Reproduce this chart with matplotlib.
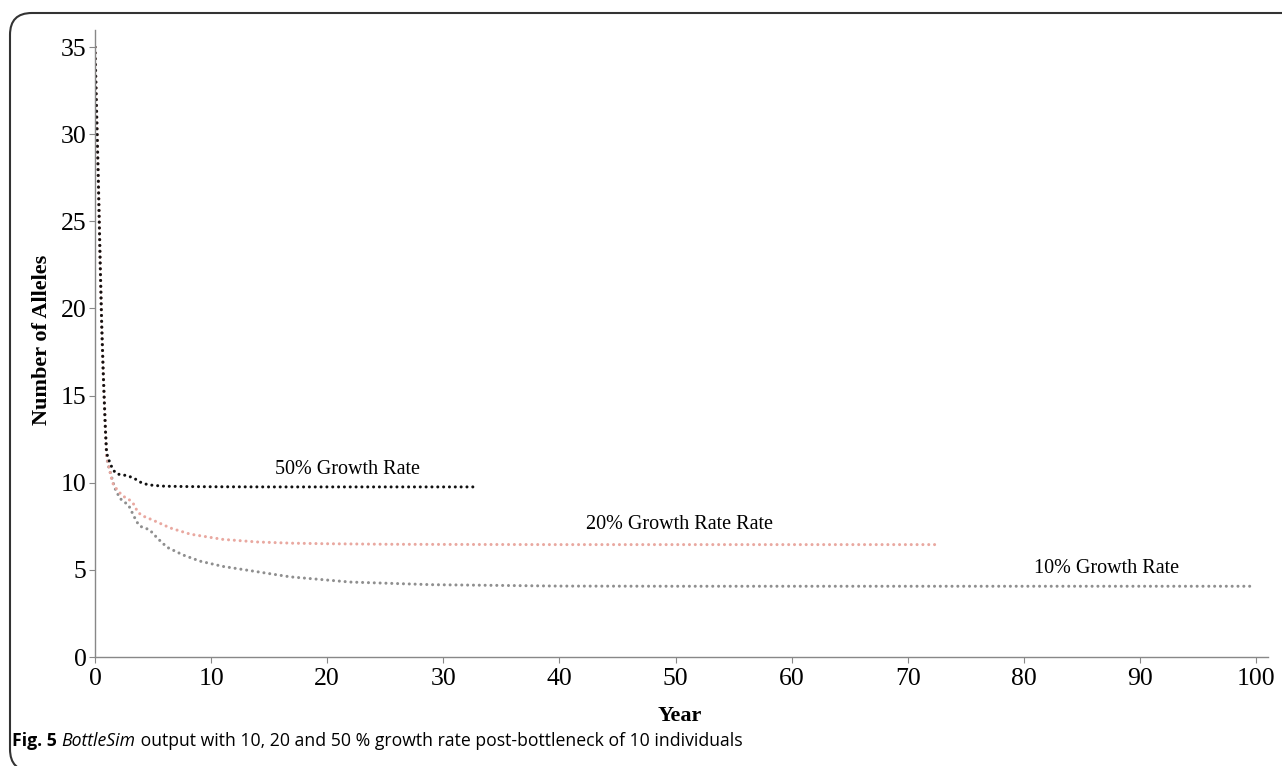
import matplotlib.pyplot as plt
from matplotlib.patches import FancyBboxPatch

# values (year, number of alleles)
years_50 = [0, 0.15, 0.3, 0.45, 0.58, 0.7, 0.8, 0.9, 1.0, 1.3, 1.6, 1.9, 2.4, 2.8, 3.2, 3.5, 4.0, 4.5, 5.0, 6, 8, 10, 15, 20, 25, 30, 32.7]
alleles_50 = [35, 31.0, 27.0, 22.5, 19.0, 16.5, 14.7, 13.0, 11.7, 11.1, 10.7, 10.5, 10.45, 10.4, 10.3, 10.2, 10.0, 9.9, 9.85, 9.8, 9.78, 9.77, 9.76, 9.76, 9.76, 9.76, 9.76]

years_20 = [0, 0.15, 0.3, 0.45, 0.58, 0.7, 0.8, 0.9, 1.0, 1.5, 2.0, 2.5, 3.0, 3.3, 3.7, 4.1, 5.0, 6.5, 8.2, 11, 14, 17, 20, 25, 30, 40, 50, 60, 72.7]
alleles_20 = [35, 31.0, 27.0, 22.5, 19.0, 16.5, 14.7, 13.0, 11.5, 10.0, 9.5, 9.2, 9.0, 8.8, 8.3, 8.1, 7.85, 7.4, 7.05, 6.75, 6.6, 6.53, 6.5, 6.47, 6.46, 6.45, 6.45, 6.45, 6.45]

years_10 = [0, 0.15, 0.3, 0.45, 0.58, 0.7, 0.8, 0.9, 1.0, 1.1, 1.7, 2.15, 2.9, 3.3, 3.6, 3.9, 4.7, 5.4, 6.2, 7.6, 9.05, 11, 13.9, 16.8, 22, 29, 40, 50, 60, 70, 80, 90, 99.6]
alleles_10 = [35, 31.0, 27.0, 22.5, 19.0, 16.5, 14.7, 13.0, 11.5, 11.1, 9.7, 9.1, 8.7, 8.15, 7.75, 7.5, 7.3, 6.8, 6.3, 5.85, 5.5, 5.2, 4.9, 4.6, 4.3, 4.15, 4.07, 4.06, 4.06, 4.06, 4.06, 4.06, 4.06]

x_ticks = [0, 10, 20, 30, 40, 50, 60, 70, 80, 90, 100]
y_ticks = [0, 5, 10, 15, 20, 25, 30, 35]

serif = 'Liberation Serif'
dots = (0, (0.01, 1.9))

fig = plt.figure(figsize=(12.82, 7.66), dpi=100)
ax = fig.add_axes([95 / 1282, 1 - 657 / 766, (1268 - 95) / 1282, (657 - 30) / 766])

ax.plot(years_10, alleles_10, color='#8f8f8f', lw=2.2, ls=dots, dash_capstyle='round')
ax.plot(years_20, alleles_20, color='#e9a8a0', lw=2.2, ls=dots, dash_capstyle='round')
ax.plot(years_50, alleles_50, color='#111111', lw=2.2, ls=dots, dash_capstyle='round')

ax.set_xlim(0, 101.03)
ax.set_ylim(0, 35.98)
ax.set_xticks(x_ticks)
ax.set_yticks(y_ticks)
for lab in ax.get_xticklabels() + ax.get_yticklabels():
    lab.set_fontfamily(serif)
    lab.set_fontsize(18.5)
ax.tick_params(colors='#888888', labelcolor='black', length=4, width=0.8)
ax.tick_params(axis='x', pad=4)
ax.tick_params(axis='y', pad=2)

for s in ['top', 'right']:
    ax.spines[s].set_visible(False)
for s in ['left', 'bottom']:
    ax.spines[s].set_color('#888888')
    ax.spines[s].set_linewidth(1.0)

ax.text(15.5, 10.75, '50% Growth Rate', fontfamily=serif, fontsize=14.5, ha='left', va='center')
ax.text(42.3, 7.6, '20% Growth Rate Rate', fontfamily=serif, fontsize=14.5, ha='left', va='center')
ax.text(80.9, 5.1, '10% Growth Rate', fontfamily=serif, fontsize=14.5, ha='left', va='center')

fig.text(680 / 1282, 1 - 716 / 766, 'Year', fontfamily=serif, fontsize=16, fontweight='bold',
         ha='center', va='center')
fig.text(42 / 1282, 1 - 340 / 766, 'Number of Alleles', fontfamily=serif, fontsize=16,
         fontweight='bold', ha='center', va='center', rotation=90)

# caption
cap_y = 1 - 741 / 766
cap_size = 12.7
t1 = fig.text(12 / 1282, cap_y, 'Fig. 5 ', fontfamily='Open Sans', fontsize=cap_size, fontweight='bold',
              ha='left', va='center')
fig.canvas.draw()
bb = t1.get_window_extent()
t2 = fig.text(bb.x1 / 1282, cap_y, 'BottleSim', fontfamily='Open Sans', fontsize=cap_size,
              style='italic', ha='left', va='center')
bb2 = t2.get_window_extent()
fig.text(bb2.x1 / 1282, cap_y, ' output with 10, 20 and 50 % growth rate post-bottleneck of 10 individuals',
         fontfamily='Open Sans', fontsize=cap_size, ha='left', va='center')

# rounded frame (bottom and right edges fall outside the image)
frame = FancyBboxPatch((10 / 1282, 1 - 771 / 766), 2.0, (771 - 13) / 766,
                       boxstyle='round,pad=0,rounding_size=0.017', transform=fig.transFigure,
                       fill=False, edgecolor='#333333', lw=1.5, mutation_aspect=1282 / 766)
fig.patches.append(frame)

fig.savefig('out.png', dpi=100)
